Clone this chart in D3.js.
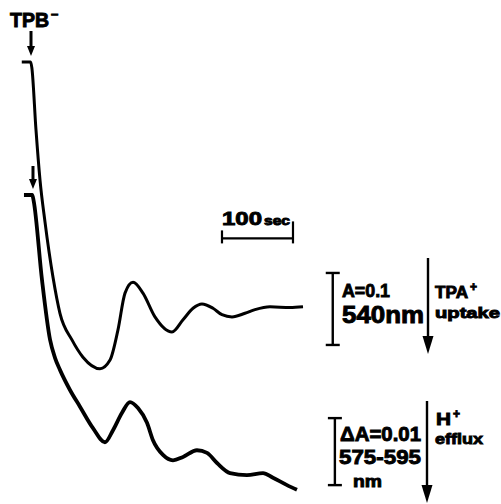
<!DOCTYPE html>
<html>
<head>
<meta charset="utf-8">
<script src="https://cdn.jsdelivr.net/npm/d3@7"></script>
<style>
  html, body { margin: 0; padding: 0; background: #fff; }
  svg { display: block; }
  text { font-family: "Liberation Sans", Arial, sans-serif; font-weight: bold; fill: #000; stroke: #000; stroke-width: 0.9px; }
</style>
</head>
<body>
<div id="chart"></div>
<script>
// Upper trace: absorbance at 540 nm (TPA+ uptake), time in s after TPB- addition
const upperTime = [-13, -0.5, 1.2, 7.0, 12.7, 19.7, 31, 40.8, 57.7, 73.2, 97.2, 111.3, 122.5, 132.4, 143.7, 157.7,
  174.6, 198.6, 214.1, 228.2, 240.8, 256.3, 269, 283.1, 301.4, 315.5, 336.6, 364.8, 383.1];
const upperAbs = [0, 0, -0.008, -0.094, -0.164, -0.222, -0.299, -0.349, -0.386, -0.410, -0.426, -0.414, -0.372, -0.321, -0.306, -0.321,
  -0.354, -0.375, -0.358, -0.342, -0.336, -0.342, -0.351, -0.354, -0.349, -0.344, -0.340, -0.341, -0.340];

// Lower trace: delta A 575-595 nm (H+ efflux)
const lowerTime = [-9.9, 1.8, 3.8, 15.5, 26.8, 33.8, 40.8, 54.9, 69.0, 87.3, 104.2, 115.5, 128.2, 139.4, 150.7, 163.4,
  171.8, 185.9, 200, 214.1, 233.8, 247.9, 262, 280.3, 304.2, 326.8, 340.8, 360.6, 374.6];
const lowerAbs = [0, 0, -0.0009, -0.0127, -0.0216, -0.0243, -0.0261, -0.0291, -0.0316, -0.0348, -0.0369, -0.0351, -0.0325, -0.0309, -0.0318, -0.0340,
  -0.0366, -0.0388, -0.0396, -0.0391, -0.0381, -0.0385, -0.0400, -0.0415, -0.0418, -0.0415, -0.0422, -0.0433, -0.0440];

// scale bars (data units)
const timeBar = { start: 269, length: 100, label: '100', unit: 'sec' };
const upperBar = { t: 425, top: -0.293, size: 0.1 };
const lowerBar = { t: 428, top: -0.0333, size: 0.01 };

const width = 501;
const height = 504;

const svg = d3.select('#chart').append('svg')
  .attr('width', width)
  .attr('height', height);

svg.append('rect').attr('width', width).attr('height', height).attr('fill', '#fff');

const x = d3.scaleLinear().domain([0, 100]).range([31, 102]);
const yUp = d3.scaleLinear().domain([0, -0.1]).range([62, 134]);
const yLo = d3.scaleLinear().domain([0, -0.01]).range([195, 262]);

const line = d3.line().curve(d3.curveMonotoneX);

const upperPts = upperTime.map((t, i) => [x(t), yUp(upperAbs[i])]);
const lowerPts = lowerTime.map((t, i) => [x(t), yLo(lowerAbs[i])]);

svg.append('path')
  .attr('d', line(upperPts))
  .attr('fill', 'none')
  .attr('stroke', '#000')
  .attr('stroke-width', 3)
  .attr('stroke-linejoin', 'round');

svg.append('path')
  .attr('d', line(lowerPts))
  .attr('fill', 'none')
  .attr('stroke', '#000')
  .attr('stroke-width', 3.8)
  .attr('stroke-linejoin', 'round');

// vertical arrow pointing down
function arrow(cx, y1, y2, headLen, headW, sw) {
  svg.append('line')
    .attr('x1', cx).attr('x2', cx)
    .attr('y1', y1).attr('y2', y2 - headLen + 1)
    .attr('stroke', '#000').attr('stroke-width', sw);
  svg.append('path')
    .attr('d', `M${cx - headW / 2},${y2 - headLen} L${cx + headW / 2},${y2 - headLen} L${cx},${y2} Z`)
    .attr('fill', '#000');
}

// text with optional superscript
function label(tx, ty, size, len, str, sup, supSize, supDy) {
  const t = svg.append('text').attr('x', tx).attr('y', ty).attr('font-size', size);
  const main = t.append('tspan').text(str);
  if (len) main.attr('textLength', len).attr('lengthAdjust', 'spacingAndGlyphs');
  if (sup) {
    t.append('tspan').attr('dx', 2).attr('dy', supDy).attr('font-size', supSize).text(sup);
  }
  return t;
}

// addition markers
label(10, 27, 19.5, null, 'TPB', '\u2013', 13, -9);
arrow(x(0), 31, 56, 10, 8, 3);
arrow(x(2.8), 166, 189, 10, 8, 3);

// time scale bar
const tb0 = x(timeBar.start), tb1 = x(timeBar.start + timeBar.length), tbY = yUp(-0.245);
svg.append('line').attr('x1', tb0).attr('x2', tb1).attr('y1', tbY).attr('y2', tbY)
  .attr('stroke', '#000').attr('stroke-width', 2.2);
svg.append('line').attr('x1', tb0).attr('x2', tb0).attr('y1', tbY - 8).attr('y2', tbY + 5)
  .attr('stroke', '#000').attr('stroke-width', 2.2);
svg.append('line').attr('x1', tb1).attr('x2', tb1).attr('y1', tbY - 17).attr('y2', tbY + 5)
  .attr('stroke', '#000').attr('stroke-width', 2.2);
label(tb0, 225, 18, 40, timeBar.label);
label(tb0 + 42, 225, 12, 26, timeBar.unit);

// absorbance scale bars (I-beam)
function ibeam(cx, yTop, yBot) {
  svg.append('line').attr('x1', cx).attr('x2', cx).attr('y1', yTop).attr('y2', yBot)
    .attr('stroke', '#000').attr('stroke-width', 2.4);
  [yTop, yBot].forEach(yy => {
    svg.append('line').attr('x1', cx - 7).attr('x2', cx + 7).attr('y1', yy).attr('y2', yy)
      .attr('stroke', '#000').attr('stroke-width', 2.4);
  });
}
ibeam(x(upperBar.t), yUp(upperBar.top), yUp(upperBar.top - upperBar.size));
ibeam(x(lowerBar.t), yLo(lowerBar.top), yLo(lowerBar.top - lowerBar.size));

// upper labels
label(342, 297, 19, 48, 'A=0.1');
label(342, 323, 23, 82, '540nm');
arrow(428, 258, 354, 18, 11, 2.4);
label(435, 298, 16, 33, 'TPA', '+', 12, -7);
label(435, 318, 14.5, 65, 'uptake');

// lower labels
label(340, 441, 20, 81, '\u0394A=0.01');
label(339, 464, 21, 82, '575-595');
label(353, 487, 17, 29, 'nm');
arrow(427, 401, 503, 18, 11, 2.4);
label(436, 425, 17, 15, 'H', '+', 12, -7);
label(435, 444, 15, 48, 'efflux');
</script>
</body>
</html>
